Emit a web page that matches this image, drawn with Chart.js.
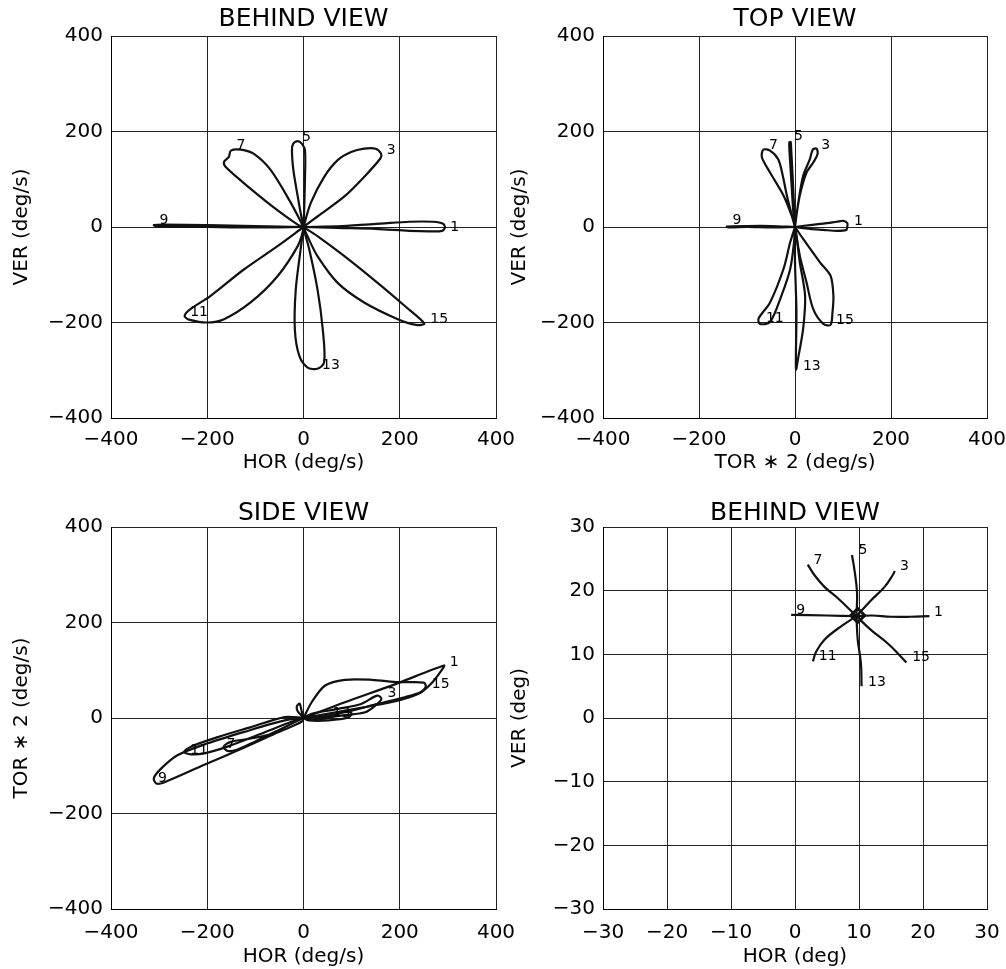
<!DOCTYPE html>
<html>
<head>
<meta charset="utf-8">
<script src="https://cdn.jsdelivr.net/npm/chart.js@4/dist/chart.umd.min.js"></script>
<style>
body{margin:0;background:#fff;width:1006px;height:969px;position:relative;overflow:hidden}
canvas{position:absolute}
</style>
</head>
<body>
<canvas id="behindRate" width="520" height="490" style="left:0;top:0"></canvas>
<canvas id="topRate" width="506" height="490" style="left:500px;top:0"></canvas>
<canvas id="sideRate" width="520" height="479" style="left:0;top:490px"></canvas>
<canvas id="behindPos" width="506" height="479" style="left:500px;top:490px"></canvas>
<script>
// tick values
var rateTicks = [-400, -200, 0, 200, 400];
var posTicks = [-30, -20, -10, 0, 10, 20, 30];
var petalNames = ['1', '3', '5', '7', '9', '11', '13', '15'];

// BEHIND VIEW (HOR, VER) deg/s - one loop per petal
var b1 = [[0,0],[80,2],[160,7],[220,11],[270,11],[290,7],[294,-1],[288,-8],[260,-9],[220,-8],[150,-4],[70,-2],[0,0]];
var b3 = [[0,0],[15,50],[43,105],[71,140],[99,157],[126,164],[150,164],[161,154],[160,144],[126,105],[85,64],[29,22],[0,0]];
var b5 = [[0,0],[-6,30],[-12,64],[-21,119],[-24,161],[-21,175],[-12,180],[-4,175],[3,161],[3,99],[1,22],[0,0]];
var b7 = [[0,0],[-26,50],[-68,119],[-103,153],[-130,162],[-151,160],[-155,147],[-165,137],[-162,126],[-124,92],[-68,46],[-12,5],[0,0]];
var b9 = [[0,0],[-100,2],[-200,4],[-290,5],[-311,4],[-305,1],[-200,0],[-100,-1],[0,0]];
var b11 = [[0,0],[-54,-40],[-124,-89],[-193,-144],[-235,-172],[-247,-186],[-238,-194],[-200,-200],[-165,-193],[-110,-158],[-54,-103],[-12,-40],[0,-6],[0,0]];
var b13 = [[0,0],[-6,-47],[-16,-130],[-18,-214],[-9,-269],[8,-294],[29,-297],[43,-283],[40,-214],[29,-130],[12,-47],[1,-6],[0,0]];
var b15 = [[0,0],[29,-19],[85,-61],[154,-117],[210,-165],[251,-202],[234,-205],[196,-193],[126,-158],[71,-117],[29,-61],[8,-19],[0,0]];
var behindLabelX = [314, 182, 6, -130, -290, -217, 57, 282];
var behindLabelY = [0, 160, 187, 171, 14, -178, -289, -194];

// TOP VIEW (TOR*2, VER) deg/s
var t1 = [[0,0],[31,4],[59,7],[87,11],[101,13],[109,8],[109,1],[107,-6],[87,-8],[59,-6],[31,-4],[0,0]];
var t3 = [[0,0],[7,52],[17,107],[31,142],[37,162],[45,164],[47,153],[38,135],[24,114],[10,66],[2,17],[0,0]];
var t5 = [[0,0],[-3,24],[-7,86],[-10,135],[-12,177],[-9,178],[-8,163],[-5,107],[-2,45],[0,0]];
var t7 = [[0,0],[-7,24],[-24,66],[-52,114],[-69,146],[-66,162],[-52,160],[-35,142],[-26,110],[-17,66],[-4,15],[0,0]];
var t9 = [[0,0],[-50,2],[-100,2],[-142,1],[-138,-1],[-100,0],[-50,-1],[0,0]];
var t11 = [[0,0],[-10,-32],[-24,-88],[-52,-158],[-76,-192],[-73,-203],[-52,-199],[-28,-143],[-10,-88],[-2,-32],[0,0]];
var t13 = [[0,0],[0,-74],[3,-178],[2,-298],[7,-272],[17,-213],[21,-144],[10,-74],[3,-18],[0,0]];
var t15 = [[0,0],[17,-25],[52,-74],[74,-102],[80,-144],[78,-180],[74,-205],[59,-203],[38,-172],[24,-116],[10,-60],[0,0]];
var topLabelX = [132, 64, 7, -45, -121, -42, 35, 104];
var topLabelY = [11, 170, 190, 172, 13, -191, -291, -196];

// SIDE VIEW (HOR, TOR*2) deg/s
var s1 = [[0,0],[86,33],[191,71],[292,110],[289,103],[268,75],[240,51],[198,37],[128,23],[52,9],[0,0]];
var s3 = [[0,0],[17,9],[72,19],[121,30],[153,47],[162,40],[149,26],[128,12],[86,6],[31,0],[0,0]];
var s5 = [[0,0],[-4,15],[-8,30],[-14,24],[-12,14],[-4,5],[0,0]];
var s7 = [[0,0],[-25,-12],[-67,-33],[-109,-43],[-151,-50],[-166,-60],[-158,-69],[-137,-66],[-102,-50],[-53,-26],[-11,-5],[0,0]];
var s9 = [[0,0],[-39,-5],[-123,-29],[-199,-53],[-262,-78],[-296,-106],[-311,-126],[-306,-137],[-290,-135],[-206,-98],[-123,-62],[-53,-30],[-4,-8],[0,0]];
var s11 = [[0,0],[-39,2],[-109,-19],[-178,-40],[-234,-60],[-248,-71],[-234,-76],[-206,-74],[-158,-60],[-88,-33],[-25,-8],[0,0]];
var s13 = [[0,0],[17,-3],[59,2],[86,15],[100,10],[93,1],[52,-5],[10,-5],[0,0]];
var s15 = [[0,0],[17,33],[45,68],[86,80],[142,80],[198,75],[250,74],[254,65],[243,54],[212,44],[156,30],[86,12],[31,2],[0,0]];
var sideLabelText = ['1', '3', '7', '9', '11', '13', '15'];
var sideLabelX = [313, 184, -151, -293, -217, 79, 285];
var sideLabelY = [117, 52, -55, -126, -67, 10, 71];

// BEHIND VIEW positions (HOR, VER) deg
var c1 = [[9.6,16],[12,16.1],[15,15.9],[18,15.9],[21,16]];
var c3 = [[9.6,16],[11.9,18.5],[14,20.6],[15.3,22.5],[15.6,23.1]];
var c5 = [[9.6,16],[9.7,19.6],[9.3,23.2],[8.9,25.6]];
var c7 = [[9.6,16],[6.7,18.8],[4.6,20.6],[3,22.5],[2,24.1]];
var c9 = [[9.6,16],[5,16.1],[-0.6,16.2]];
var c11 = [[9.6,16],[7.2,14.4],[4.6,12.3],[3.3,10.4],[2.8,8.9]];
var c13 = [[9.6,16],[9.8,12.3],[10.3,8.6],[10.4,5]];
var c15 = [[9.6,16],[11.9,13.8],[14.5,11.7],[16.3,9.9],[17.4,8.7]];
var centerMark = [9.8, 16.1];
var posLabelX = [22.4, 17.1, 10.6, 3.6, 0.9, 5.1, 12.8, 19.7];
var posLabelY = [16.6, 23.8, 26.3, 24.7, 16.9, 9.7, 5.6, 9.5];

var FONT = '"DejaVu Sans", sans-serif';

function fmt(v) {
    return v < 0 ? '\u2212' + Math.abs(v) : String(v);
}

// draws the petal numbers at data coordinates
var petalLabels = {
    id: 'petalLabels',
    afterDatasetsDraw: function (chart, args, o) {
        var ctx = chart.ctx;
        ctx.save();
        ctx.font = '14px ' + FONT;
        ctx.fillStyle = '#000';
        ctx.textAlign = 'center';
        ctx.textBaseline = 'middle';
        for (var i = 0; i < o.text.length; i++) {
            ctx.fillText(o.text[i], chart.scales.x.getPixelForValue(o.x[i]), chart.scales.y.getPixelForValue(o.y[i]));
        }
        ctx.restore();
    }
};

function loopSet(pts, tension) {
    return {
        data: pts.map(function (p) { return {x: p[0], y: p[1]}; }),
        showLine: true, borderColor: '#111', borderWidth: 2.2,
        pointRadius: 0, tension: tension, fill: false
    };
}

function panel(id, p) {
    var sets = p.loops.map(function (l) { return loopSet(l, p.tension); });
    if (p.extra) sets.push(p.extra);
    new Chart(document.getElementById(id), {
        type: 'scatter',
        data: {datasets: sets},
        options: {
            responsive: false, animation: false, events: [],
            layout: {padding: {left: 0, right: p.padRight, top: 0, bottom: 0}},
            plugins: {
                legend: {display: false},
                tooltip: {enabled: false},
                title: {
                    display: true, text: p.title, color: '#000', fullSize: false,
                    font: {family: FONT, size: 25, weight: 'normal', lineHeight: 1},
                    padding: {top: p.titleTop, bottom: p.titleBottom}
                },
                petalLabels: {x: p.labelX, y: p.labelY, text: p.labelText}
            },
            scales: {
                x: {
                    type: 'linear', min: p.ticks[0], max: p.ticks[p.ticks.length - 1],
                    afterBuildTicks: function (s) { s.ticks = p.ticks.map(function (v) { return {value: v}; }); },
                    afterFit: function (s) { s.height = p.xh; s.paddingLeft = 0; s.paddingRight = 0; },
                    grid: {color: '#222', lineWidth: 1, drawTicks: false},
                    border: {color: '#000', width: 1},
                    ticks: {color: '#000', font: {family: FONT, size: 20}, padding: p.xTickPad, maxRotation: 0, autoSkip: false, callback: fmt},
                    title: {display: true, text: p.xTitle, color: '#000', font: {family: FONT, size: 20, lineHeight: 1.2}, padding: {top: 0, bottom: p.xTitleBottom}}
                },
                y: {
                    type: 'linear', min: p.ticks[0], max: p.ticks[p.ticks.length - 1],
                    afterBuildTicks: function (s) { s.ticks = p.ticks.map(function (v) { return {value: v}; }); },
                    afterFit: function (s) { s.width = p.yw; s.paddingTop = 0; s.paddingBottom = 0; },
                    grid: {color: '#222', lineWidth: 1, drawTicks: false},
                    border: {color: '#000', width: 1},
                    ticks: {color: '#000', font: {family: FONT, size: 20}, padding: 8, autoSkip: false, callback: fmt},
                    title: {display: true, text: p.yTitle, color: '#000', font: {family: FONT, size: 20, lineHeight: 1.2}, padding: {top: p.yTitleTop, bottom: 0}}
                }
            }
        },
        plugins: [petalLabels]
    });
}

panel('behindRate', {
    title: 'BEHIND VIEW', xTitle: 'HOR (deg/s)', yTitle: 'VER (deg/s)',
    loops: [b1, b3, b5, b7, b9, b11, b13, b15], tension: 0.3, ticks: rateTicks,
    labelX: behindLabelX, labelY: behindLabelY, labelText: petalNames,
    padRight: 24, yw: 111, xh: 72, titleTop: 7, titleBottom: 4,
    xTickPad: 10, xTitleBottom: 15, yTitleTop: 10
});
panel('topRate', {
    title: 'TOP VIEW', xTitle: 'TOR \u2217 2 (deg/s)', yTitle: 'VER (deg/s)',
    loops: [t1, t3, t5, t7, t9, t11, t13, t15], tension: 0.3, ticks: rateTicks,
    labelX: topLabelX, labelY: topLabelY, labelText: petalNames,
    padRight: 19, yw: 103, xh: 72, titleTop: 7, titleBottom: 4,
    xTickPad: 10, xTitleBottom: 15, yTitleTop: 8
});
panel('sideRate', {
    title: 'SIDE VIEW', xTitle: 'HOR (deg/s)', yTitle: 'TOR \u2217 2 (deg/s)',
    loops: [s1, s3, s5, s7, s9, s11, s13, s15], tension: 0.3, ticks: rateTicks,
    labelX: sideLabelX, labelY: sideLabelY, labelText: sideLabelText,
    padRight: 24, yw: 111, xh: 60, titleTop: 11, titleBottom: 1,
    xTickPad: 12, xTitleBottom: 0, yTitleTop: 10
});
panel('behindPos', {
    title: 'BEHIND VIEW', xTitle: 'HOR (deg)', yTitle: 'VER (deg)',
    loops: [c1, c3, c5, c7, c9, c11, c13, c15], tension: 0.4, ticks: posTicks,
    labelX: posLabelX, labelY: posLabelY, labelText: petalNames,
    padRight: 19, yw: 103, xh: 60, titleTop: 11, titleBottom: 1,
    xTickPad: 12, xTitleBottom: 0, yTitleTop: 8,
    extra: {
        data: [{x: centerMark[0], y: centerMark[1]}], showLine: false,
        pointStyle: 'rectRot', pointRadius: 7, borderWidth: 3,
        borderColor: '#111', backgroundColor: 'rgba(0,0,0,0)'
    }
});
</script>
</body>
</html>
